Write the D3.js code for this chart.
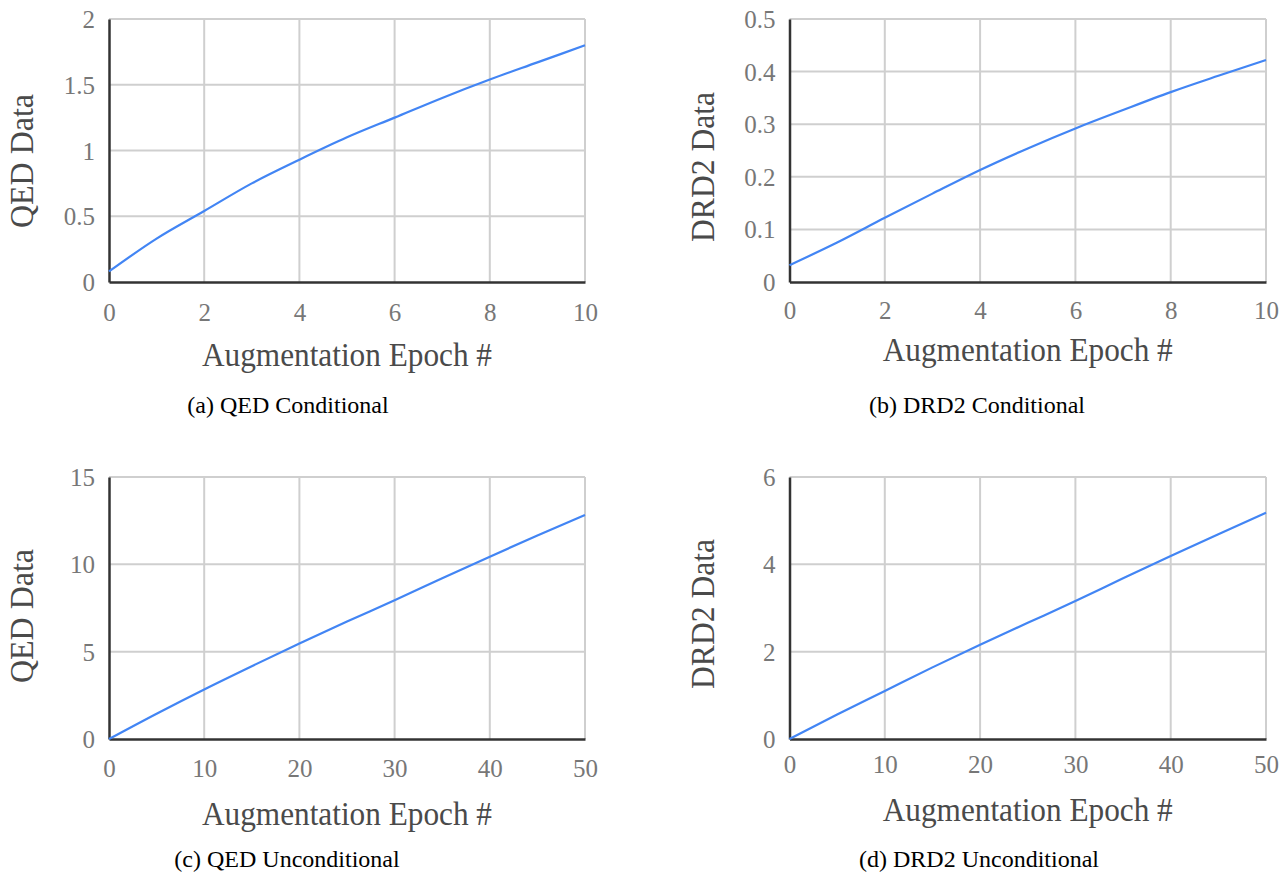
<!DOCTYPE html>
<html><head><meta charset="utf-8">
<script src="https://cdn.jsdelivr.net/npm/d3@7"></script>
<style>
html,body{margin:0;padding:0;background:#fff;}
svg{display:block;}
</style></head>
<body>
<svg id="chart" width="1282" height="875"></svg>
<script>
// Data
const epochsCond = [0,1,2,3,4,5,6,7,8,9,10];
const qedCond = [0.08,0.33,0.54,0.75,0.93,1.10,1.25,1.40,1.54,1.67,1.80];
const drd2Cond = [0.032,0.075,0.122,0.168,0.213,0.254,0.292,0.327,0.361,0.392,0.422];
const epochsUncond = [0,5,10,15,20,25,30,35,40,45,50];
const qedUncond = [0,1.45,2.84,4.17,5.47,6.72,7.94,9.20,10.44,11.65,12.82];
const drd2Uncond = [0,0.56,1.10,1.64,2.16,2.66,3.16,3.68,4.19,4.69,5.18];
const xTicksCond = [0,2,4,6,8,10];
const xTicksUncond = [0,10,20,30,40,50];
const yTicksA = [0,0.5,1,1.5,2];
const yTicksB = [0,0.1,0.2,0.3,0.4,0.5];
const yTicksC = [0,5,10,15];
const yTicksD = [0,2,4,6];
const yTitles = ["QED Data","DRD2 Data","QED Data","DRD2 Data"];
const xTitle = "Augmentation Epoch #";
const captions = ["(a) QED Conditional","(b) DRD2 Conditional","(c) QED Unconditional","(d) DRD2 Unconditional"];

const svg = d3.select("#chart");
const FONT = '"Liberation Serif", "Times New Roman", Times, serif';

const panels = [
  {x: epochsCond, y: qedCond, xt: xTicksCond, yt: yTicksA, left:109, right:585, top:19, bottom:282,
   ytx:33, yty:161, ytLen:134, xtb:321, xtitleb:366, capx:288, capb:413},
  {x: epochsCond, y: drd2Cond, xt: xTicksCond, yt: yTicksB, left:789.5, right:1266, top:19, bottom:282,
   ytx:714, yty:167, ytLen:150, xtb:319, xtitleb:361, capx:977, capb:413},
  {x: epochsUncond, y: qedUncond, xt: xTicksUncond, yt: yTicksC, left:109, right:585, top:477, bottom:739,
   ytx:33, yty:616, ytLen:134, xtb:777, xtitleb:825, capx:287, capb:867},
  {x: epochsUncond, y: drd2Uncond, xt: xTicksUncond, yt: yTicksD, left:789.5, right:1266, top:477, bottom:739,
   ytx:714, yty:614, ytLen:150, xtb:773, xtitleb:821, capx:979, capb:867}
];

panels.forEach((p,i)=>{
  const xs = d3.scaleLinear().domain(d3.extent(p.xt)).range([p.left,p.right]);
  const ys = d3.scaleLinear().domain(d3.extent(p.yt)).range([p.bottom,p.top]);
  const g = svg.append("g");
  // gridlines
  g.append("g").selectAll("line").data(p.xt.slice(1)).join("line")
    .attr("x1",d=>xs(d)).attr("x2",d=>xs(d)).attr("y1",p.top).attr("y2",p.bottom)
    .attr("stroke","#cfcfcf").attr("stroke-width",2);
  g.append("g").selectAll("line").data(p.yt.slice(1)).join("line")
    .attr("x1",p.left).attr("x2",p.right).attr("y1",d=>ys(d)).attr("y2",d=>ys(d))
    .attr("stroke","#cfcfcf").attr("stroke-width",2);
  // axes
  const xAxis = d3.axisBottom(xs).tickValues(p.xt).tickSize(0).tickPadding(0).tickFormat(d3.format("~g"));
  const yAxis = d3.axisLeft(ys).tickValues(p.yt).tickSize(0).tickPadding(14).tickFormat(d3.format("~g"));
  const gx = g.append("g").attr("transform",`translate(0,${p.bottom})`).call(xAxis);
  const gy = g.append("g").attr("transform",`translate(${p.left},0)`).call(yAxis);
  gx.selectAll("text").attr("y", p.xtb - p.bottom).attr("dy", 0);
  gy.selectAll("text").attr("dy","0.34em");
  [gx,gy].forEach(a=>{
    a.attr("font-family",null).attr("font-size",null);
    a.select(".domain").attr("stroke","#333").attr("stroke-width",2.5);
    a.selectAll("text").style("font-family",FONT).style("font-size","25px").attr("fill","#777");
  });
  // line
  const line = d3.line().x((d,j)=>xs(p.x[j])).y(d=>ys(d)).curve(d3.curveMonotoneX);
  g.append("path").datum(p.y).attr("d",line).attr("fill","none")
    .attr("stroke","#4285f4").attr("stroke-width",2.2);
  // titles
  g.append("text").attr("x",(p.left+p.right)/2).attr("y",p.xtitleb)
    .attr("text-anchor","middle").style("font-family",FONT).style("font-size","33px").attr("fill","#4a4a4a")
    .attr("textLength",290).attr("lengthAdjust","spacingAndGlyphs")
    .text(xTitle);
  g.append("text").attr("transform",`translate(${p.ytx},${p.yty}) rotate(-90)`)
    .attr("text-anchor","middle").style("font-family",FONT).style("font-size","33px").attr("fill","#4a4a4a")
    .attr("textLength",p.ytLen).attr("lengthAdjust","spacingAndGlyphs")
    .text(yTitles[i]);
  g.append("text").attr("x",p.capx).attr("y",p.capb)
    .attr("text-anchor","middle").style("font-family",FONT).style("font-size","24px").attr("fill","#000")
    .text(captions[i]);
});
</script>
</body></html>
